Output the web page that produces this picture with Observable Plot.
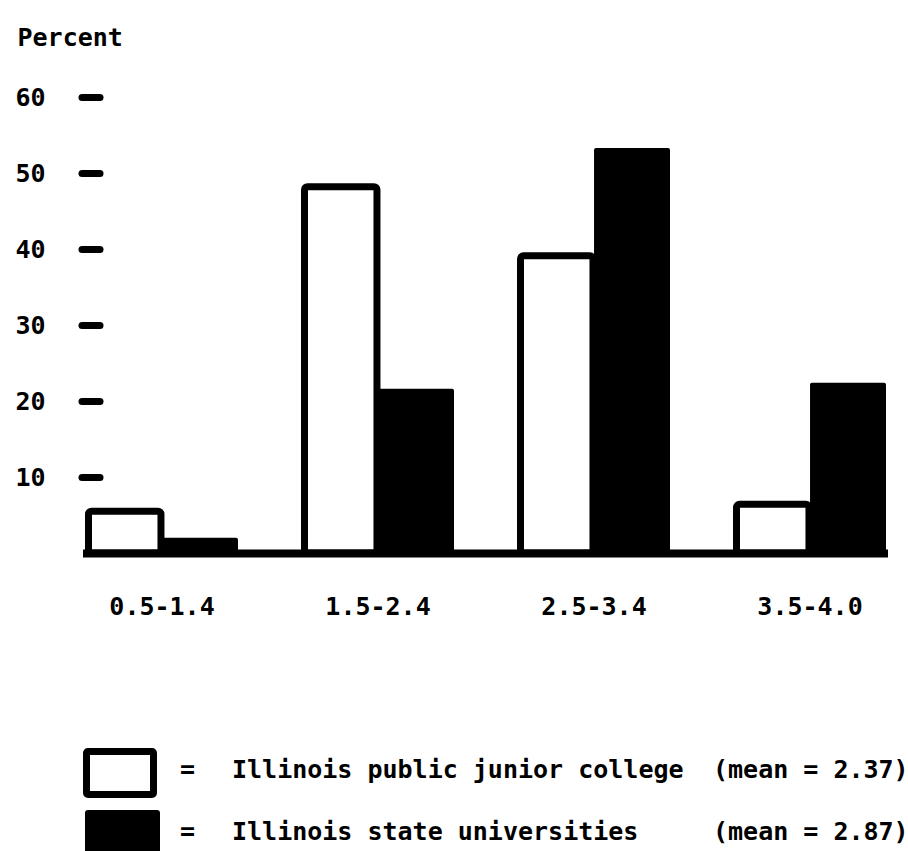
<!DOCTYPE html>
<html>
<head>
<meta charset="utf-8">
<script src="https://cdn.jsdelivr.net/npm/d3@7"></script>
<script src="https://cdn.jsdelivr.net/npm/@observablehq/plot@0.6"></script>
<style>
  html, body { margin: 0; padding: 0; background: #fff; }
  body { width: 908px; height: 851px; position: relative; overflow: hidden;
         font-family: "DejaVu Sans Mono", monospace; font-weight: bold; color: #000; }
  #chart { position: absolute; left: 0; top: 0; }
  svg g[aria-label="y-axis"] line,
  svg g[aria-label="y-axis"] path,
  svg g[aria-label="y-axis tick"] path { stroke-width: 7px; stroke-linecap: round; }
  .lg { position: absolute; font-size: 25px; line-height: 30px; white-space: pre; }
  .sw { position: absolute; box-sizing: border-box; }
</style>
</head>
<body>
<div id="chart"></div>
<div id="legend"></div>
<script>
// ---- data ----
const groups = ["0.5-1.4", "1.5-2.4", "2.5-3.4", "3.5-4.0"];
const juniorCollege = [5.5, 48.2, 39.1, 6.4];       // Illinois public junior college
const stateUniversities = [2.0, 21.6, 53.3, 22.4];  // Illinois state universities
const yTicks = [10, 20, 30, 40, 50, 60];
const yLabel = "Percent";
const seriesNames = ["Illinois public junior college", "Illinois state universities"];
const seriesMeans = ["(mean = 2.37)", "(mean = 2.87)"];

const table = groups.map((g, i) => ({group: g, jc: juniorCollege[i], su: stateUniversities[i]}));

const bandRange = [83, 888];
const half = (bandRange[1] - bandRange[0]) / (groups.length - 0.29) * 0.71 / 2;

const plot = Plot.plot({
  width: 908,
  height: 640,
  marginTop: 97,
  marginBottom: 87,
  marginLeft: 100,
  marginRight: 20,
  style: {fontFamily: "DejaVu Sans Mono, monospace", fontSize: "25px", fontWeight: "bold", color: "#000", background: "#fff"},
  x: {type: "band", domain: groups, range: bandRange, paddingInner: 0.29, paddingOuter: 0,
      tickSize: 0, tickPadding: 44, label: null},
  y: {domain: [0, 60], ticks: yTicks, tickSize: 18, tickPadding: 37, label: null, tickFormat: d => String(d)},
  marks: [
    Plot.barY(table, {x: "group", y: "jc", insetLeft: 3.5, insetRight: half, fill: "#fff", stroke: "#000", strokeWidth: 7, rx: 3}),
    Plot.barY(table, {x: "group", y: "su", insetLeft: half, fill: "#000", rx: 2}),
    Plot.ruleY([0], {strokeWidth: 8, insetLeft: -17, stroke: "#000"}),
    Plot.text([yLabel], {frameAnchor: "top-left", dx: -83, dy: -69, textAnchor: "start", fontSize: 25, fontWeight: "bold"})
  ]
});
document.getElementById("chart").appendChild(plot);

// ---- legend ----
const legend = document.getElementById("legend");
const rows = [
  {top: 770, swatch: {left: 83, top: 748, width: 74, height: 50, bg: "#fff", border: "7px solid #000", radius: "5px"}},
  {top: 832, swatch: {left: 85, top: 810, width: 75, height: 50, bg: "#000", border: "none", radius: "3px"}}
];
rows.forEach((r, i) => {
  const sw = document.createElement("div");
  sw.className = "sw";
  Object.assign(sw.style, {left: r.swatch.left + "px", top: r.swatch.top + "px", width: r.swatch.width + "px",
    height: r.swatch.height + "px", background: r.swatch.bg, border: r.swatch.border, borderRadius: r.swatch.radius});
  legend.appendChild(sw);
  const parts = [["=", 180], [seriesNames[i], 232], [seriesMeans[i], 713]];
  parts.forEach(([t, x]) => {
    const s = document.createElement("div");
    s.className = "lg";
    s.textContent = t;
    s.style.left = x + "px";
    s.style.top = (r.top - 15) + "px";
    legend.appendChild(s);
  });
});
</script>
</body>
</html>
